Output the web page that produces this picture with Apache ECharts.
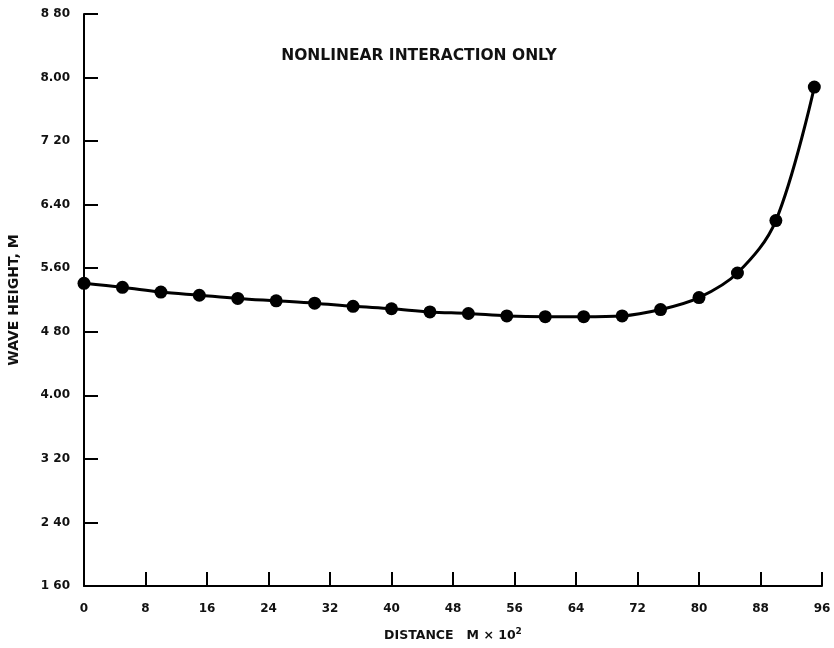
<!DOCTYPE html>
<html><head><meta charset="utf-8">
<script src="https://cdn.jsdelivr.net/npm/echarts@6/dist/echarts.min.js"></script>
<style>html,body{margin:0;padding:0;background:#fff}#c{width:834px;height:648px}</style>
</head><body><div id="c"></div>
<script>
var distance = [0, 5, 10, 15, 20, 25, 30, 35, 40, 45, 50, 55, 60, 65, 70, 75, 80, 85, 90, 95];
var waveHeight = [5.41, 5.36, 5.30, 5.26, 5.22, 5.19, 5.16, 5.12, 5.09, 5.05, 5.03, 5.00, 4.99, 4.99, 5.00, 5.08, 5.23, 5.54, 6.20, 7.88];
var yTickLabels = {"1.6":"1 60","2.4":"2 40","3.2":"3 20","4":"4.00","4.8":"4 80","5.6":"5.60","6.4":"6.40","7.2":"7 20","8":"8.00","8.8":"8 80"};
var titleText = "NONLINEAR INTERACTION ONLY";
var yName = "WAVE HEIGHT, M";
var xName = "DISTANCE   M \u00d7 10{s|2}";

var chart = echarts.init(document.getElementById('c'));
var font = 'DejaVu Sans, Verdana, sans-serif';
chart.setOption({
  animation: false,
  backgroundColor: '#fff',
  title: {text: titleText, left: 414, top: 43, textAlign: 'center',
    textStyle: {fontFamily: font, fontSize: 15.5, fontWeight: 'bold', color: '#111'}},
  grid: {left: 84, right: 12, top: 14, bottom: 62, outerBoundsMode: 'none', containLabel: false},
  xAxis: {
    type: 'value', min: 0, max: 96, interval: 8,
    name: xName, nameLocation: 'middle', nameGap: 41,
    nameTextStyle: {fontFamily: font, fontSize: 12.5, color: '#111', fontWeight: 'bold',
      rich: {s: {fontSize: 9, verticalAlign: 'top', padding: [0,0,8,0], fontWeight: 'bold', fontFamily: font}}},
    axisLine: {show: true, onZero: false, lineStyle: {color: '#000', width: 2}},
    axisTick: {show: true, inside: true, length: 14, lineStyle: {color: '#000', width: 2}},
    axisLabel: {fontFamily: font, fontSize: 12, fontWeight: 'bold', color: '#111', margin: 17},
    splitLine: {show: false}
  },
  yAxis: {
    type: 'value', min: 1.6, max: 8.8, interval: 0.8,
    name: yName, nameLocation: 'middle', nameGap: 63, nameRotate: 90,
    nameTextStyle: {fontFamily: font, fontSize: 14, fontWeight: 'bold', color: '#111'},
    axisLine: {show: true, onZero: false, lineStyle: {color: '#000', width: 2}},
    axisTick: {show: true, inside: true, length: 14, lineStyle: {color: '#000', width: 2}},
    axisLabel: {fontFamily: font, fontSize: 12, fontWeight: 'bold', color: '#111', margin: 14,
      formatter: function (v) { var k = String(Math.round(v * 10) / 10); return yTickLabels[k] || v.toFixed(2); }},
    splitLine: {show: false}
  },
  series: [{
    type: 'line', data: distance.map(function (d, i) { return [d, waveHeight[i]]; }),
    smooth: 0.35, symbol: 'circle', symbolSize: 13,
    lineStyle: {color: '#000', width: 3}, itemStyle: {color: '#000'}
  }]
});
</script></body></html>
